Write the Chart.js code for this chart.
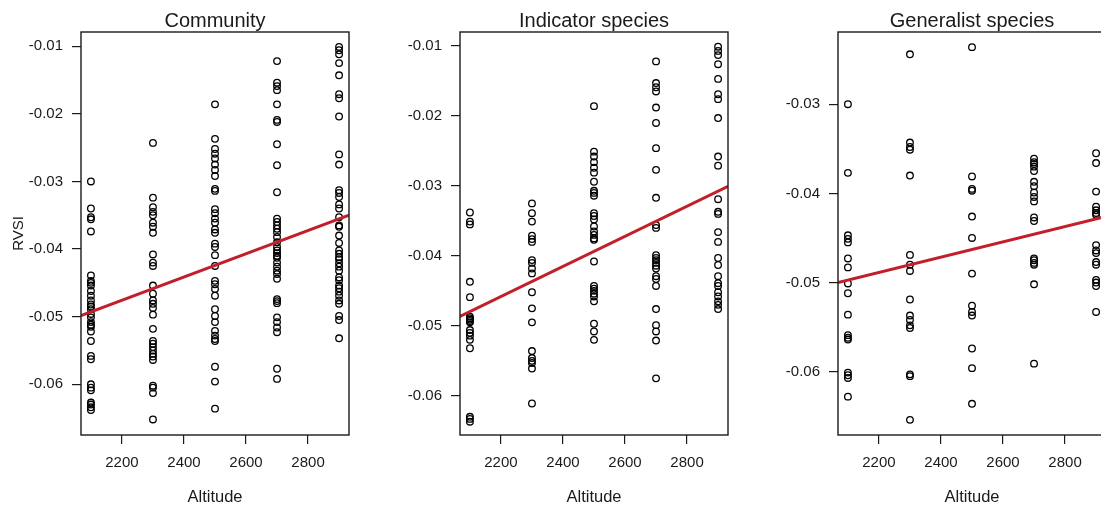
<!DOCTYPE html>
<html>
<head>
<meta charset="utf-8">
<script src="https://cdn.jsdelivr.net/npm/chart.js@4.4.1/dist/chart.umd.min.js"></script>
<style>
  html, body { margin: 0; padding: 0; background: #fff; width: 1101px; height: 506px; overflow: hidden; }
  canvas { position: absolute; top: 0; }
</style>
</head>
<body>
<script>
// ---------- DATA ----------
const altitudes = [2100, 2300, 2500, 2700, 2900];
const xTicks = [2200, 2400, 2600, 2800];

const community2100 = [-0.0300, -0.0340, -0.0353, -0.0356, -0.0374, -0.0439, -0.0447, -0.0450, -0.0454, -0.0462, -0.0469, -0.0476, -0.0482, -0.0485, -0.0489, -0.0496, -0.0501, -0.0508, -0.0512, -0.0515, -0.0522, -0.0536, -0.0558, -0.0563, -0.0600, -0.0605, -0.0609, -0.0627, -0.0630, -0.0634, -0.0638];
const community2300 = [-0.0243, -0.0324, -0.0338, -0.0345, -0.0350, -0.0361, -0.0367, -0.0376, -0.0408, -0.0420, -0.0425, -0.0454, -0.0466, -0.0476, -0.0481, -0.0487, -0.0497, -0.0518, -0.0536, -0.0540, -0.0545, -0.0550, -0.0555, -0.0559, -0.0564, -0.0602, -0.0605, -0.0613, -0.0652];
const community2500 = [-0.0186, -0.0237, -0.0252, -0.0259, -0.0266, -0.0275, -0.0283, -0.0292, -0.0311, -0.0314, -0.0341, -0.0347, -0.0355, -0.0361, -0.0371, -0.0376, -0.0392, -0.0397, -0.0409, -0.0425, -0.0447, -0.0452, -0.0459, -0.0469, -0.0489, -0.0499, -0.0508, -0.0521, -0.0528, -0.0533, -0.0536, -0.0574, -0.0596, -0.0636];
const community2700 = [-0.0122, -0.0154, -0.0159, -0.0165, -0.0186, -0.0209, -0.0212, -0.0245, -0.0276, -0.0316, -0.0355, -0.0360, -0.0365, -0.0370, -0.0375, -0.0382, -0.0390, -0.0397, -0.0402, -0.0406, -0.0410, -0.0413, -0.0420, -0.0426, -0.0432, -0.0437, -0.0444, -0.0474, -0.0477, -0.0480, -0.0501, -0.0508, -0.0516, -0.0523, -0.0577, -0.0592];
const community2900 = [-0.0101, -0.0106, -0.0112, -0.0125, -0.0143, -0.0171, -0.0177, -0.0204, -0.0260, -0.0275, -0.0313, -0.0317, -0.0323, -0.0334, -0.0340, -0.0353, -0.0365, -0.0367, -0.0380, -0.0391, -0.0402, -0.0407, -0.0412, -0.0415, -0.0421, -0.0426, -0.0432, -0.0442, -0.0446, -0.0454, -0.0458, -0.0463, -0.0469, -0.0476, -0.0481, -0.0499, -0.0505, -0.0532];

const indicator2100 = [-0.0338, -0.0351, -0.0355, -0.0437, -0.0459, -0.0487, -0.0489, -0.0491, -0.0493, -0.0495, -0.0506, -0.0510, -0.0514, -0.0520, -0.0532, -0.0630, -0.0633, -0.0637];
const indicator2300 = [-0.0325, -0.0339, -0.0351, -0.0371, -0.0376, -0.0380, -0.0406, -0.0410, -0.0418, -0.0425, -0.0452, -0.0475, -0.0495, -0.0536, -0.0546, -0.0550, -0.0553, -0.0561, -0.0611];
const indicator2500 = [-0.0186, -0.0251, -0.0258, -0.0266, -0.0274, -0.0281, -0.0294, -0.0307, -0.0310, -0.0314, -0.0339, -0.0343, -0.0348, -0.0358, -0.0365, -0.0370, -0.0375, -0.0377, -0.0408, -0.0443, -0.0447, -0.0450, -0.0454, -0.0458, -0.0465, -0.0497, -0.0508, -0.0520];
const indicator2700 = [-0.0122, -0.0153, -0.0159, -0.0165, -0.0188, -0.0210, -0.0246, -0.0277, -0.0317, -0.0356, -0.0360, -0.0399, -0.0403, -0.0406, -0.0410, -0.0414, -0.0418, -0.0429, -0.0433, -0.0443, -0.0476, -0.0499, -0.0508, -0.0521, -0.0575];
const indicator2900 = [-0.0101, -0.0107, -0.0113, -0.0126, -0.0147, -0.0169, -0.0176, -0.0203, -0.0258, -0.0271, -0.0319, -0.0337, -0.0340, -0.0366, -0.0380, -0.0403, -0.0413, -0.0429, -0.0439, -0.0443, -0.0452, -0.0458, -0.0465, -0.0470, -0.0476];

const generalist2100 = [-0.0300, -0.0377, -0.0447, -0.0451, -0.0455, -0.0473, -0.0483, -0.0501, -0.0512, -0.0536, -0.0559, -0.0562, -0.0564, -0.0601, -0.0604, -0.0607, -0.0628];
const generalist2300 = [-0.0244, -0.0343, -0.0348, -0.0351, -0.0380, -0.0469, -0.0480, -0.0487, -0.0519, -0.0537, -0.0542, -0.0548, -0.0551, -0.0603, -0.0605, -0.0654];
const generalist2500 = [-0.0236, -0.0381, -0.0395, -0.0397, -0.0426, -0.0450, -0.0490, -0.0526, -0.0533, -0.0537, -0.0574, -0.0596, -0.0636];
const generalist2700 = [-0.0361, -0.0365, -0.0367, -0.0370, -0.0375, -0.0387, -0.0392, -0.0399, -0.0404, -0.0409, -0.0427, -0.0431, -0.0473, -0.0475, -0.0478, -0.0480, -0.0502, -0.0591];
const generalist2900 = [-0.0355, -0.0366, -0.0398, -0.0415, -0.0419, -0.0422, -0.0424, -0.0458, -0.0464, -0.0467, -0.0477, -0.0480, -0.0497, -0.0500, -0.0504, -0.0533];

const panelTitles = ['Community', 'Indicator species', 'Generalist species'];
const regIntercepts = [-0.0854, -0.0931, -0.0677];
const regSlopes = [1.72e-5, 2.15e-5, 8.56e-6];
const yTicks1 = [-0.06, -0.05, -0.04, -0.03, -0.02, -0.01];
const yTicks2 = [-0.06, -0.05, -0.04, -0.03, -0.02, -0.01];
const yTicks3 = [-0.06, -0.05, -0.04, -0.03];
const yRanges = [[-0.0675, -0.0079], [-0.0656, -0.0080], [-0.0671, -0.0219]];
const xRange = [2068, 2932];

// ---------- BUILD ----------
const panelSeries = [
  [community2100, community2300, community2500, community2700, community2900],
  [indicator2100, indicator2300, indicator2500, indicator2700, indicator2900],
  [generalist2100, generalist2300, generalist2500, generalist2700, generalist2900]
];
const panelYTicks = [yTicks1, yTicks2, yTicks3];
const canvasLefts = [0, 379, 757];
const FONT = "'Liberation Sans', Arial, sans-serif";
const INK = '#1a1a1a';

const boxPlugin = {
  id: 'rbox',
  afterDatasetsDraw(chart) {
    const a = chart.chartArea, ctx = chart.ctx;
    ctx.save();
    ctx.strokeStyle = INK;
    ctx.lineWidth = 1.4;
    ctx.strokeRect(a.left, a.top, a.right - a.left, a.bottom - a.top);
    ctx.restore();
  }
};

panelSeries.forEach((series, p) => {
  const cv = document.createElement('canvas');
  cv.width = 367; cv.height = 506;
  cv.style.left = canvasLefts[p] + 'px';
  cv.style.width = '367px'; cv.style.height = '506px';
  document.body.appendChild(cv);

  const pts = [];
  series.forEach((vals, i) => vals.forEach(v => pts.push({ x: altitudes[i], y: v })));
  const line = [xRange[0], xRange[1]].map(x => ({ x: x, y: regIntercepts[p] + regSlopes[p] * x }));
  const yt = panelYTicks[p];

  new Chart(cv, {
    type: 'scatter',
    data: {
      datasets: [
        { data: line, showLine: true, borderColor: '#c21f2b', borderWidth: 3, pointRadius: 0, pointHoverRadius: 0, fill: false },
        { data: pts, pointStyle: 'circle', pointRadius: 3.3, pointBorderWidth: 1.3, borderWidth: 1.3,
          borderColor: '#000', backgroundColor: 'rgba(0,0,0,0)', pointBackgroundColor: 'rgba(0,0,0,0)' }
      ]
    },
    options: {
      responsive: false,
      animation: false,
      devicePixelRatio: 1,
      events: [],
      layout: { padding: { left: 0, right: 18, top: 0, bottom: 0 } },
      plugins: {
        legend: { display: false },
        tooltip: { enabled: false },
        title: {
          display: true, text: panelTitles[p], fullSize: false, color: INK,
          font: { family: FONT, size: 20, weight: 'normal', lineHeight: 1 },
          padding: { top: 11.5, bottom: 0.5 }
        }
      },
      scales: {
        x: {
          type: 'linear', min: xRange[0], max: xRange[1],
          afterBuildTicks: s => { s.ticks = xTicks.map(v => ({ value: v })); },
          afterFit: s => { s.height = 71; },
          grid: { display: true, drawOnChartArea: false, drawTicks: true, tickLength: 9, color: INK, lineWidth: 1.2 },
          border: { display: false },
          ticks: { font: { family: FONT, size: 15 }, color: INK, padding: 9.5, maxRotation: 0, callback: v => String(v) },
          title: { display: true, text: 'Altitude', color: INK, font: { family: FONT, size: 16.5, lineHeight: 1 }, padding: { top: 0, bottom: 0.3 } }
        },
        y: {
          type: 'linear', min: yRanges[p][0], max: yRanges[p][1],
          afterBuildTicks: s => { s.ticks = yt.map(v => ({ value: v })); },
          afterFit: s => { s.width = 81; },
          grid: { display: true, drawOnChartArea: false, drawTicks: true, tickLength: 9, color: INK, lineWidth: 1.2 },
          border: { display: false },
          ticks: { font: { family: FONT, size: 15 }, color: INK, padding: 9, callback: v => String(Number(v.toFixed(2))) },
          title: { display: p === 0, text: 'RVSI', color: INK, font: { family: FONT, size: 15, lineHeight: 1.2 }, padding: { top: 9.4, bottom: 0 } }
        }
      }
    },
    plugins: [boxPlugin]
  });
});
</script>
</body>
</html>
